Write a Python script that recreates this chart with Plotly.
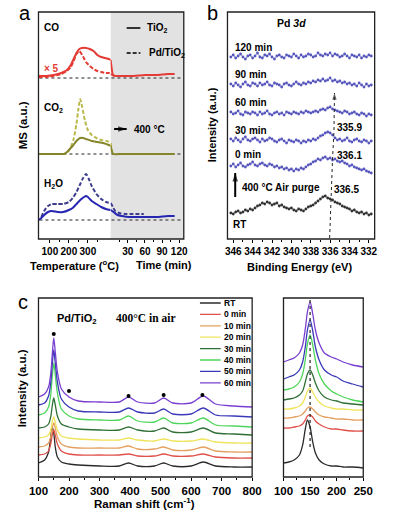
import plotly.graph_objects as go

W, H = 397, 519
FONT = "Liberation Sans, Arial, sans-serif"

# ---------------- Panel a : MS data ----------------
CO_T = [40, 80, 120, 160, 190, 210, 225, 240, 255, 270, 290, 310, 330, 350, 370, 390, 410, 420]
CO_TIO2_T = [163, 163, 164, 166, 169, 174, 180, 186, 190, 191, 191, 190, 188, 184, 182, 181, 180, 179]
CO_PD_T = [162, 162, 163, 165, 168, 172, 178, 185, 188, 184, 177, 173, 170, 168, 167, 166, 166, 165]
CO_TIO2_TIME = [0, 2, 4, 8, 20, 40, 60, 80, 100, 112]
CO_TIO2_TV = [179, 170, 164, 163, 163, 163, 164, 164, 165, 165]
CO_PD_TIME = [0, 3, 6]
CO_PD_TV = [165, 164, 163]

CO2_TIO2_T = [40, 100, 150, 175, 190, 205, 220, 240, 260, 275, 290, 320, 350, 380, 410, 420]
CO2_TIO2_V = [85, 85, 85, 85, 87, 90, 93, 98, 101, 101, 100, 98, 97, 96, 94, 93]
CO2_PD_T = [40, 100, 150, 175, 195, 210, 225, 240, 250, 260, 270, 285, 300, 320, 345, 370, 400, 420]
CO2_PD_V = [85, 85, 85, 85, 87, 92, 100, 115, 130, 140, 132, 118, 109, 104, 101, 99, 98, 96]
CO2_TIO2_TIME = [0, 2, 4, 20, 60, 100, 112]
CO2_TIO2_TV = [93, 88, 85, 85, 85, 85, 85]
CO2_PD_TIME = [0, 2, 4]
CO2_PD_TV = [96, 89, 85]

H2O_T = [40, 55, 70, 90, 110, 140, 170, 200, 220, 240, 260, 280, 290, 300, 320, 345, 370, 395, 420]
H2O_TIO2_V = [19, 21, 24, 27, 28, 27, 27, 29, 31, 35, 39, 42, 43, 42, 38, 35, 32, 30, 29]
H2O_PD_T = [55, 70, 90, 110, 140, 170, 200, 220, 240, 260, 275, 290, 305, 320, 345, 370, 395, 420]
H2O_PD_V = [22, 28, 33, 35, 35, 35, 37, 41, 47, 55, 61, 65, 60, 53, 45, 40, 37, 36]
H2O_TIO2_TIME = [0, 5, 12, 20, 32, 50, 80, 100, 112]
H2O_TIO2_TV = [29, 27, 24, 23, 22, 22, 22, 23, 23]
H2O_PD_TIME = [0, 4, 8, 15, 25, 35, 50, 58]
H2O_PD_TV = [36, 32, 28, 26, 25, 25, 25, 25]

MS_BASELINES = [161, 85, 19]
TEMP_TICKS = [100, 200, 300]
TIME_TICKS = [30, 60, 90, 120]

# ---------------- Panel b : XPS Pd 3d ----------------
BE = [346.25, 346.0, 345.75, 345.5, 345.25, 345.0, 344.75, 344.5, 344.25, 344.0,
      343.75, 343.5, 343.25, 343.0, 342.75, 342.5, 342.25, 342.0, 341.75, 341.5,
      341.25, 341.0, 340.75, 340.5, 340.25, 340.0, 339.75, 339.5, 339.25, 339.0,
      338.75, 338.5, 338.25, 338.0, 337.75, 337.5, 337.25, 337.0, 336.75, 336.5,
      336.25, 336.0, 335.75, 335.5, 335.25, 335.0, 334.75, 334.5, 334.25, 334.0,
      333.75, 333.5, 333.25, 333.0, 332.75, 332.5, 332.25, 332.0, 331.75]
XPS_120 = [182, 184, 181, 183, 185, 182, 180, 183, 184, 181, 183, 186, 182, 181, 184, 183, 185, 182, 180, 183,
           184, 182, 181, 184, 183, 182, 185, 183, 181, 184, 182, 183, 185, 184, 182, 183, 186, 184, 183, 185,
           184, 186, 183, 185, 184, 182, 183, 185, 183, 181, 184, 183, 182, 184, 181, 183, 182, 184, 183]
XPS_90 = [155, 153, 156, 154, 152, 155, 157, 154, 153, 156, 155, 153, 156, 154, 155, 157, 154, 153, 156, 155,
          154, 152, 155, 156, 154, 153, 155, 157, 155, 154, 156, 155, 157, 156, 158, 157, 159, 158, 160, 158,
          159, 161, 158, 159, 157, 158, 156, 157, 155, 156, 154, 155, 153, 156, 154, 152, 155, 153, 154]
XPS_60 = [127, 125, 126, 128, 125, 124, 127, 126, 125, 127, 126, 124, 127, 125, 126, 128, 125, 124, 126, 127,
          125, 126, 124, 127, 126, 125, 127, 126, 125, 127, 126, 128, 127, 126, 127, 128, 127, 129, 130, 129,
          131, 132, 130, 129, 128, 127, 126, 128, 127, 125, 126, 127, 125, 124, 126, 125, 123, 125, 124]
XPS_30 = [100, 98, 101, 99, 97, 100, 102, 99, 98, 100, 101, 99, 97, 100, 98, 99, 101, 100, 98, 97,
          99, 100, 98, 96, 99, 98, 97, 99, 98, 96, 98, 97, 99, 98, 100, 99, 101, 103, 104, 106,
          107, 106, 104, 101, 99, 100, 98, 99, 101, 98, 97, 99, 100, 98, 97, 99, 98, 96, 98]
XPS_0 = [73, 75, 72, 74, 76, 73, 72, 74, 75, 77, 74, 73, 75, 76, 74, 73, 75, 74, 72, 73,
         71, 72, 70, 71, 69, 70, 68, 70, 69, 71, 70, 72, 74, 75, 77, 78, 80, 79, 81, 82,
         80, 81, 79, 80, 78, 77, 78, 76, 75, 73, 74, 72, 71, 70, 69, 70, 68, 67, 66]
XPS_RT = [26, 25, 27, 28, 26, 27, 29, 28, 30, 29, 31, 33, 34, 36, 35, 37, 36, 34, 35, 36,
          33, 34, 32, 31, 30, 31, 29, 28, 30, 29, 28, 30, 32, 33, 34, 36, 38, 40, 42, 43,
          41, 40, 39, 37, 36, 35, 33, 32, 31, 30, 28, 29, 27, 26, 27, 25, 26, 24, 25]
XPS_LABELS = ["120 min", "90 min", "60 min", "30 min", "0 min"]
XPS_LABEL_Y = [191, 165, 137, 109, 85]
SHIFT_X = [336.05, 335.9, 335.75, 335.6, 335.55, 335.55]
SHIFT_Y = [1, 45, 80, 108, 138, 146]
PEAK_LABELS = ["335.9", "336.1", "336.5"]
PEAK_LABEL_Y = [112, 84, 50]

# ---------------- Panel c : Raman ----------------
RAMAN_LABELS = ["RT", "0 min", "10 min", "20 min", "30 min", "40 min", "50 min", "60 min"]
RAMAN_COLORS = ["#2b2b2b", "#e0504a", "#e3a060", "#f0e45c", "#2f6f35", "#4fd65a", "#3a3ab8", "#7a3fd0"]
RAMAN_X = [100, 120, 133, 140, 145, 150, 155, 162, 175, 200, 230, 300, 365, 395, 425, 480, 510, 540, 600, 640, 680, 740, 800]
RAMAN_Y = [
    [14, 17, 25, 40, 50, 44, 30, 20, 15, 13, 12, 11, 11, 14, 11, 11, 14, 11, 11, 15, 11, 10, 10],
    [22, 23, 26, 33, 42, 47, 42, 33, 26, 23, 22, 22, 22, 23, 21, 21, 23, 21, 21, 23, 20, 19, 19],
    [30, 31, 34, 40, 49, 54, 49, 40, 33, 30, 29, 29, 29, 31, 28, 28, 30, 27, 27, 30, 26, 25, 25],
    [39, 40, 42, 47, 55, 60, 55, 47, 41, 39, 38, 37, 37, 39, 37, 36, 38, 36, 36, 38, 35, 34, 34],
    [49, 50, 53, 60, 71, 79, 72, 61, 53, 50, 48, 47, 47, 50, 47, 46, 49, 45, 45, 49, 44, 43, 42],
    [62, 64, 70, 82, 100, 114, 102, 84, 68, 61, 58, 57, 57, 61, 56, 55, 59, 54, 54, 59, 52, 51, 50],
    [72, 74, 81, 94, 112, 127, 114, 95, 78, 70, 66, 65, 65, 69, 65, 64, 68, 63, 63, 69, 62, 61, 60],
    [80, 83, 90, 103, 122, 139, 125, 105, 88, 80, 76, 75, 75, 80, 75, 74, 79, 74, 74, 81, 73, 71, 70],
]
ZOOM_X = [100, 110, 120, 130, 136, 141, 145, 150, 155, 160, 167, 177, 190, 200, 212, 230, 250]
ZOOM_Y = [
    [14, 15, 17, 22, 32, 48, 57, 50, 35, 24, 17, 13, 11, 11, 10, 10, 9],
    [49, 49, 50, 51, 53, 57, 61, 62, 60, 56, 53, 50, 48, 48, 47, 46, 46],
    [59, 59, 60, 61, 63, 66, 69, 70, 68, 65, 62, 60, 59, 58, 58, 57, 57],
    [68, 68, 69, 71, 74, 80, 86, 89, 85, 80, 75, 71, 69, 68, 68, 67, 67],
    [77, 78, 79, 82, 86, 95, 103, 107, 102, 94, 86, 80, 77, 76, 74, 73, 72],
    [87, 88, 90, 95, 103, 117, 133, 142, 132, 117, 103, 93, 86, 83, 80, 77, 75],
    [98, 100, 102, 107, 115, 130, 147, 157, 146, 130, 117, 107, 102, 100, 96, 93, 90],
    [115, 117, 119, 124, 132, 148, 165, 175, 163, 147, 134, 124, 120, 118, 115, 112, 110],
]
PEAK_MARK_X = [150, 200, 395, 510, 637]
PEAK_MARK_Y = [143, 86, 81, 82, 82]
ZOOM_GUIDE_X = [150, 150]
ZOOM_GUIDE_Y = [30, 177]


def px(x):
    return x / W


def py(y):
    return 1 - y / H


fig = go.Figure()

# ---- panel a traces ----
def ms(x, y, color, dash, xa, width=2):
    fig.add_trace(go.Scatter(x=x, y=y, xaxis=xa, yaxis="y", mode="lines",
                             line=dict(color=color, width=width, dash=dash, shape="spline", smoothing=0.6),
                             showlegend=False, hoverinfo="skip"))

RED, OLIVE, OLIVE_L, BLUE, BLUE_D = "#e43b35", "#85862c", "#b9b94e", "#2626b2", "#3d3d8e"
ms(CO_T, CO_PD_T, RED, "4px,2px", "x")
ms(CO_PD_TIME, CO_PD_TV, RED, "4px,2px", "x2")
ms(CO_T, CO_TIO2_T, RED, "solid", "x")
ms(CO_TIO2_TIME, CO_TIO2_TV, RED, "solid", "x2")
ms(CO2_PD_T, CO2_PD_V, OLIVE_L, "4px,2px", "x")
ms(CO2_PD_TIME, CO2_PD_TV, OLIVE_L, "4px,2px", "x2")
ms(CO2_TIO2_T, CO2_TIO2_V, OLIVE, "solid", "x")
ms(CO2_TIO2_TIME, CO2_TIO2_TV, OLIVE, "solid", "x2")
ms(H2O_PD_T, H2O_PD_V, BLUE_D, "4px,2px", "x")
ms(H2O_PD_TIME, H2O_PD_TV, BLUE_D, "4px,2px", "x2")
ms(H2O_T, H2O_TIO2_V, BLUE, "solid", "x")
ms(H2O_TIO2_TIME, H2O_TIO2_TV, BLUE, "solid", "x2")


def arrow(x, y, xa, ya, color="black", width=2, size=9, dash="solid"):
    """Line with an arrowhead at its last point."""
    n = len(x)
    fig.add_trace(go.Scatter(x=x, y=y, xaxis=xa, yaxis=ya, mode="lines",
                             line=dict(color=color, width=width, dash=dash),
                             showlegend=False, hoverinfo="skip"))
    fig.add_trace(go.Scatter(x=x[-2:], y=y[-2:], xaxis=xa, yaxis=ya, mode="markers",
                             marker=dict(symbol="arrow", angleref="previous", size=[0, size], color=color,
                                         line=dict(width=0)),
                             showlegend=False, hoverinfo="skip"))


# "-> 400 °C" arrow in panel a (time axis)
arrow([6, 28], [110, 110], "x2", "y")

# ---- panel b traces ----
for yv, col in [(XPS_RT, "#333333"), (XPS_0, "#5656bd"), (XPS_30, "#5656bd"),
                (XPS_60, "#5656bd"), (XPS_90, "#5656bd"), (XPS_120, "#5656bd")]:
    fig.add_trace(go.Scatter(x=BE, y=yv, xaxis="x3", yaxis="y3", mode="lines+markers",
                             line=dict(color=col, width=0.6),
                             marker=dict(color=col, size=2.8),
                             showlegend=False, hoverinfo="skip"))
arrow(SHIFT_X, SHIFT_Y, "x3", "y3", color="#222", width=1, size=7, dash="dot")
arrow([345.8, 345.8], [42, 66], "x3", "y3", color="black", width=2, size=9)

# ---- panel c traces ----
for yv, col in zip(RAMAN_Y, RAMAN_COLORS):
    fig.add_trace(go.Scatter(x=RAMAN_X, y=yv, xaxis="x4", yaxis="y4", mode="lines",
                             line=dict(color=col, width=1.3, shape="spline", smoothing=0.8),
                             showlegend=False, hoverinfo="skip"))
fig.add_trace(go.Scatter(x=PEAK_MARK_X, y=PEAK_MARK_Y, xaxis="x4", yaxis="y4", mode="markers",
                         marker=dict(color="black", size=4), showlegend=False, hoverinfo="skip"))
for yv, col in zip(ZOOM_Y, RAMAN_COLORS):
    fig.add_trace(go.Scatter(x=ZOOM_X, y=yv, xaxis="x5", yaxis="y5", mode="lines",
                             line=dict(color=col, width=1.3, shape="spline", smoothing=0.8),
                             showlegend=False, hoverinfo="skip"))
fig.add_trace(go.Scatter(x=ZOOM_GUIDE_X, y=ZOOM_GUIDE_Y, xaxis="x5", yaxis="y5", mode="lines",
                         line=dict(color="#222", width=1.2, dash="dot"), showlegend=False, hoverinfo="skip"))

# ---- axes ----
tickfont = dict(family=FONT, size=10, color="black", weight="bold")
tickfont_c = dict(family=FONT, size=11.5, color="black", weight="bold")
common_x = dict(ticks="outside", ticklen=3, tickwidth=1, tickcolor="black", showgrid=False, tickangle=0,
                zeroline=False, showline=False, fixedrange=True)
common_y = dict(showticklabels=False, ticks="", showgrid=False, zeroline=False, showline=False, fixedrange=True)

ya_dom = [py(239), py(12)]
yc_dom = [py(477), py(298)]
fig.update_layout(
    xaxis=dict(domain=[px(30), px(106)], range=[40, 420], anchor="y", tickmode="array", tickvals=TEMP_TICKS,
               tickfont=tickfont, minor=dict(tickmode="array", tickvals=[150, 250, 350], ticks="outside", ticklen=2),
               **common_x),
    xaxis2=dict(domain=[px(106), px(183)], range=[0, 128], anchor="y", tickmode="array", tickvals=TIME_TICKS,
                tickfont=tickfont, minor=dict(tickmode="array", tickvals=[15, 45, 75, 105], ticks="outside", ticklen=2),
                **common_x),
    yaxis=dict(domain=ya_dom, range=[0, 227], anchor="x", **common_y),
    xaxis3=dict(domain=[px(229), px(384)], range=[346.6, 331.4], anchor="y3", tickmode="array",
                tickvals=[346, 344, 342, 340, 338, 336, 334, 332], tickfont=tickfont,
                minor=dict(tickmode="array", tickvals=[345, 343, 341, 339, 337, 335, 333], ticks="outside", ticklen=2),
                **common_x),
    yaxis3=dict(domain=ya_dom, range=[0, 227], anchor="x3", **common_y),
    xaxis4=dict(domain=[px(30), px(255)], range=[100, 800], anchor="y4", tickmode="array",
                tickvals=[100, 200, 300, 400, 500, 600, 700, 800], tickfont=tickfont_c,
                minor=dict(tickmode="array", tickvals=[150, 250, 350, 450, 550, 650, 750], ticks="outside", ticklen=2),
                **common_x),
    yaxis4=dict(domain=yc_dom, range=[0, 179], anchor="x4", **common_y),
    xaxis5=dict(domain=[px(288), px(372)], range=[100, 250], anchor="y5", tickmode="array",
                tickvals=[100, 150, 200, 250], tickfont=tickfont_c,
                minor=dict(tickmode="array", tickvals=[125, 175, 225], ticks="outside", ticklen=2),
                **common_x),
    yaxis5=dict(domain=yc_dom, range=[0, 179], anchor="x5", **common_y),
)

shapes = []
# gray hold region
shapes.append(dict(type="rect", xref="x2 domain", yref="y domain", x0=0, x1=1, y0=0, y1=1,
                   fillcolor="#e2e2e2", line=dict(width=0), layer="below"))
# baselines
for b in MS_BASELINES:
    shapes.append(dict(type="line", xref="paper", yref="y", x0=px(31), x1=px(182), y0=b, y1=b,
                       line=dict(color="#222", width=1, dash="dot"), layer="below"))
# frames
for (l, r, t, b) in [(30, 183, 12, 239), (229, 384, 12, 239), (30, 255, 298, 477), (288, 372, 298, 477)]:
    shapes.append(dict(type="rect", xref="paper", yref="paper", x0=px(l), x1=px(r), y0=py(b), y1=py(t),
                       line=dict(color="#222", width=1.3), fillcolor="rgba(0,0,0,0)"))
# panel a legend samples
shapes.append(dict(type="line", xref="x2", yref="y", x0=28, x1=52, y0=211, y1=211, line=dict(color="#333", width=2)))
shapes.append(dict(type="line", xref="x2", yref="y", x0=28, x1=52, y0=186, y1=186,
                   line=dict(color="#333", width=2, dash="4px,2px")))
# panel c legend samples
leg_y0, leg_dy = 174, 11.4
for i, col in enumerate(RAMAN_COLORS):
    yy = leg_y0 - i * leg_dy
    shapes.append(dict(type="line", xref="x4", yref="y4", x0=629, x1=697, y0=yy, y1=yy, line=dict(color=col, width=1.3)))
fig.update_layout(shapes=shapes)

ann = []


def text(x, y, s, size=10.5, xref="paper", yref="paper", xanchor="left", yanchor="middle", color="black",
         bold=True, family=FONT, angle=0):
    ann.append(dict(x=x, y=y, xref=xref, yref=yref, text=s, showarrow=False, xanchor=xanchor, yanchor=yanchor,
                    textangle=angle, font=dict(family=family, size=size, color=color,
                                               weight="bold" if bold else "normal")))


# panel letters
text(px(7), py(13), "a", size=20, bold=False)
text(px(205), py(13), "b", size=20, bold=False)
text(px(6), py(302), "c", size=20, bold=False)

# panel a texts
text(px(14), py(125), "MS (a.u.)", size=11.5, xanchor="center", angle=-90)
text(px(68), py(265), "Temperature (<sup>o</sup>C)", size=11, xanchor="center")
text(px(162), py(265), "Time (min)", size=11, xanchor="center")
text(60, 211, "CO", xref="x", yref="y", size=10)
text(60, 131, "CO<sub>2</sub>", xref="x", yref="y", size=10)
text(60, 55, "H<sub>2</sub>O", xref="x", yref="y", size=10)
text(58, 171, "× 5", xref="x", yref="y", size=10, color=RED)
text(60, 211, "TiO<sub>2</sub>", xref="x2", yref="y", size=10)
text(63, 186, "Pd/TiO<sub>2</sub>", xref="x2", yref="y", size=10)
text(37, 110, "400 °C", xref="x2", yref="y", size=10)

# panel b texts
text(px(213), py(125), "Intensity (a.u.)", size=11, xanchor="center", angle=-90)
text(px(305), py(267), "Binding Energy (eV)", size=11, xanchor="center")
text(px(296), py(23), "Pd <i>3d</i>", size=10.5, xanchor="center")
for s, yy in zip(XPS_LABELS, XPS_LABEL_Y):
    text(346.05, yy, s, xref="x3", yref="y3", size=10)
text(345.35, 52, "400 °C Air purge", xref="x3", yref="y3", size=10)
text(346.2, 15, "RT", xref="x3", yref="y3", size=10)
for s, yy, xx in zip(PEAK_LABELS, PEAK_LABEL_Y, [335.45, 335.5, 335.8]):
    text(xx, yy, s, xref="x3", yref="y3", size=10)

# panel c texts
text(px(13), py(388), "Intensity (a.u.)", size=11.5, xanchor="center", angle=-90)
text(px(142), py(503), "Raman shift (cm<sup>-1</sup>)", size=11.5, xanchor="center")
text(153, 158, "Pd/TiO<sub>2</sub>", xref="x4", yref="y4", size=11)
text(348, 159, "400°C in air", xref="x4", yref="y4", size=11.5, family="Liberation Serif, Times New Roman, serif")
for i, s in enumerate(RAMAN_LABELS):
    text(700, leg_y0 - i * leg_dy, s, xref="x4", yref="y4", size=8.5)

fig.update_layout(annotations=ann, width=W, height=H, margin=dict(l=0, r=0, t=0, b=0),
                  plot_bgcolor="white", paper_bgcolor="white", showlegend=False,
                  font=dict(family=FONT, color="black"))

fig.write_html("out.html", config={"displayModeBar": False, "staticPlot": True},
               post_script="document.body.style.margin='0';document.body.style.padding='0';"
                           "document.body.style.overflow='hidden';")
